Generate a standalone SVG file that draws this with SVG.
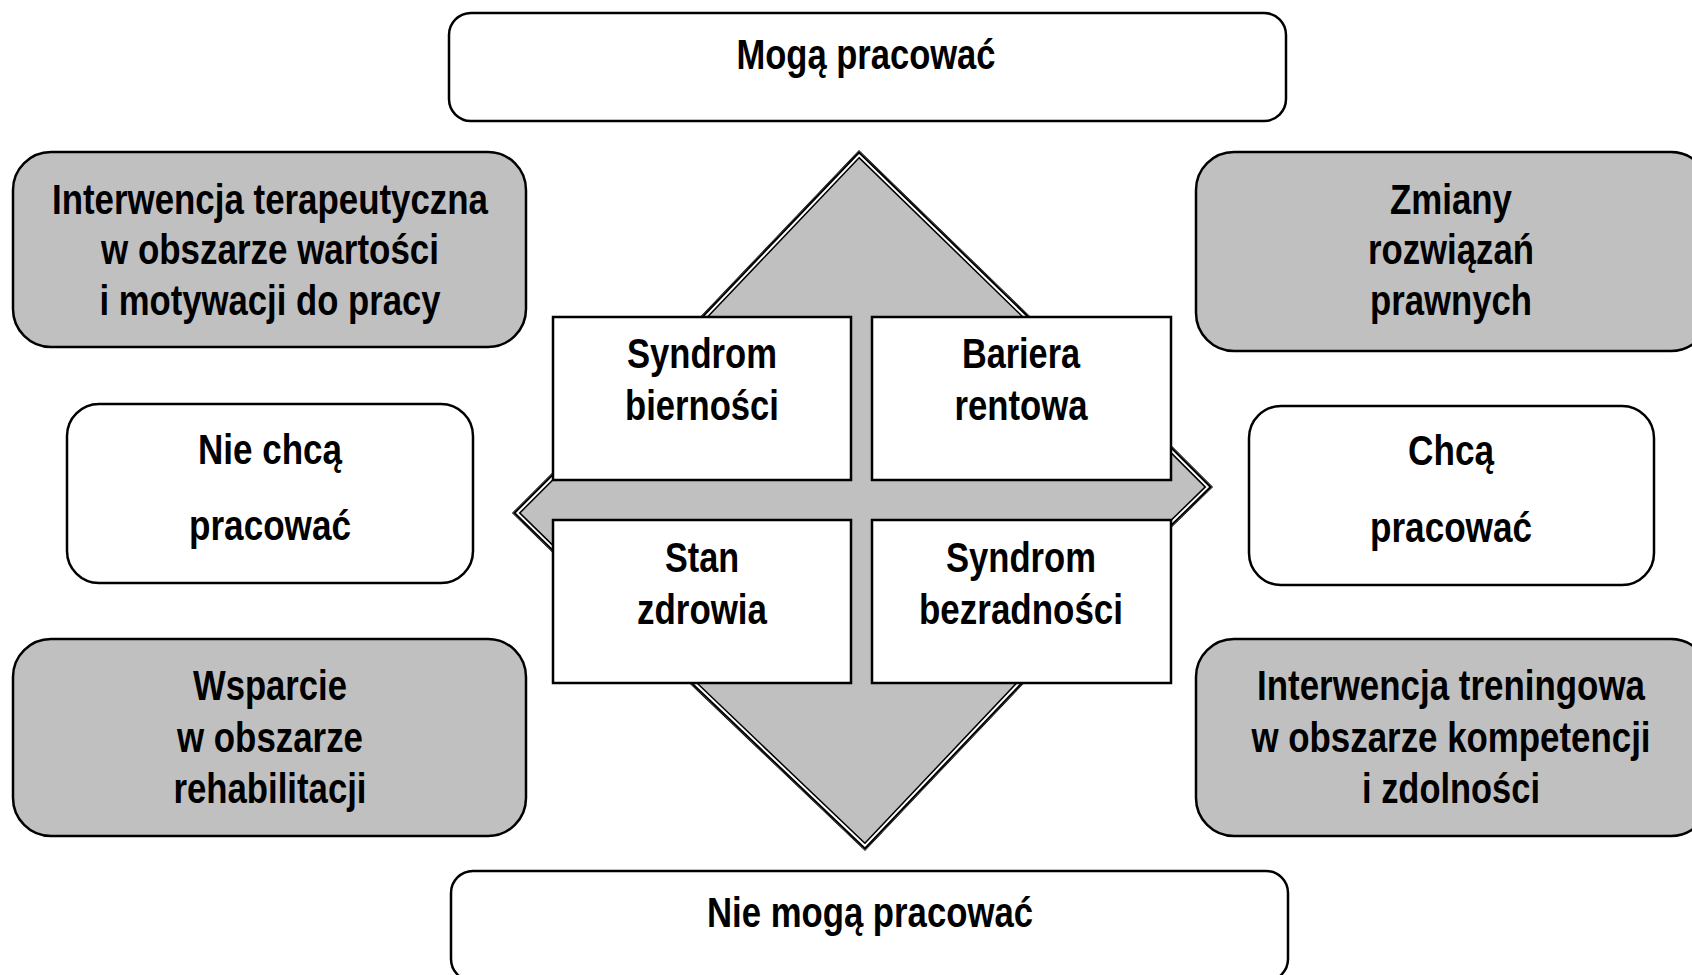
<svg xmlns="http://www.w3.org/2000/svg" width="1692" height="975" viewBox="0 0 1692 975">
<style>
text{font-family:"Liberation Sans Narrow","Arial Narrow","Liberation Sans",Arial,sans-serif;font-weight:bold;font-size:42px;fill:#000;text-anchor:middle}
.w{fill:#fff;stroke:#000;stroke-width:2.5}
.g{fill:#c0c0c0;stroke:#000;stroke-width:2.5}
.r{fill:#fff;stroke:#000;stroke-width:2.5}
</style>
<defs>
<polygon id="qa" points="859,151 1074,360 920,360 920,460 1130,460 1130,405 1212,487 1130,567 1130,540 920,540 920,640 1064,640 865,850 645,640 800,640 800,540 600,540 600,598 513,513 600,426 600,460 800,460 800,360 660,360"/>
<clipPath id="qc"><use href="#qa"/></clipPath>
</defs>
<g id="quad-arrow">
<use href="#qa" fill="#c0c0c0" stroke="#000" stroke-width="1.5"/>
<g clip-path="url(#qc)" fill="none">
<use href="#qa" stroke="#000" stroke-width="11"/>
<use href="#qa" stroke="#fff" stroke-width="8"/>
<use href="#qa" stroke="#000" stroke-width="4"/>
</g>
</g>
<g id="connectors"></g>
<g id="n-moga"><rect class="w" x="449" y="13" width="837" height="108" rx="22"/><text x="866" y="69" textLength="259" lengthAdjust="spacingAndGlyphs">Mogą pracować</text></g>
<g id="n-int-ter"><rect class="g" x="13" y="152" width="513" height="195" rx="38"/><text x="270" y="214" textLength="436" lengthAdjust="spacingAndGlyphs">Interwencja terapeutyczna</text><text x="270" y="264" textLength="338" lengthAdjust="spacingAndGlyphs">w obszarze wartości</text><text x="270" y="315" textLength="341" lengthAdjust="spacingAndGlyphs">i motywacji do pracy</text></g>
<g id="n-zmiany"><rect class="g" x="1196" y="152" width="513" height="199" rx="38"/><text x="1451" y="214" textLength="122" lengthAdjust="spacingAndGlyphs">Zmiany</text><text x="1451" y="264" textLength="166" lengthAdjust="spacingAndGlyphs">rozwiązań</text><text x="1451" y="315" textLength="162" lengthAdjust="spacingAndGlyphs">prawnych</text></g>
<g id="n-nie-chca"><rect class="w" x="67" y="404" width="406" height="179" rx="32"/><text x="270" y="464" textLength="144" lengthAdjust="spacingAndGlyphs">Nie chcą</text><text x="270" y="540" textLength="162" lengthAdjust="spacingAndGlyphs">pracować</text></g>
<g id="n-chca"><rect class="w" x="1249" y="406" width="405" height="179" rx="32"/><text x="1451" y="465" textLength="86" lengthAdjust="spacingAndGlyphs">Chcą</text><text x="1451" y="542" textLength="162" lengthAdjust="spacingAndGlyphs">pracować</text></g>
<g id="n-wsparcie"><rect class="g" x="13" y="639" width="513" height="197" rx="38"/><text x="270" y="700" textLength="154" lengthAdjust="spacingAndGlyphs">Wsparcie</text><text x="270" y="752" textLength="186" lengthAdjust="spacingAndGlyphs">w obszarze</text><text x="270" y="803" textLength="193" lengthAdjust="spacingAndGlyphs">rehabilitacji</text></g>
<g id="n-int-tren"><rect class="g" x="1196" y="639" width="513" height="197" rx="38"/><text x="1451" y="700" textLength="388" lengthAdjust="spacingAndGlyphs">Interwencja treningowa</text><text x="1451" y="752" textLength="399" lengthAdjust="spacingAndGlyphs">w obszarze kompetencji</text><text x="1451" y="803" textLength="178" lengthAdjust="spacingAndGlyphs">i zdolności</text></g>
<g id="n-nie-moga"><rect class="w" x="451" y="871" width="837" height="110" rx="22"/><text x="870" y="927" textLength="326" lengthAdjust="spacingAndGlyphs">Nie mogą pracować</text></g>
<g id="n-biernosci"><rect class="r" x="553" y="317" width="298" height="163"/><text x="702" y="368" textLength="150" lengthAdjust="spacingAndGlyphs">Syndrom</text><text x="702" y="420" textLength="154" lengthAdjust="spacingAndGlyphs">bierności</text></g>
<g id="n-bariera"><rect class="r" x="872" y="317" width="299" height="163"/><text x="1021" y="368" textLength="118" lengthAdjust="spacingAndGlyphs">Bariera</text><text x="1021" y="420" textLength="133" lengthAdjust="spacingAndGlyphs">rentowa</text></g>
<g id="n-stan"><rect class="r" x="553" y="520" width="298" height="163"/><text x="702" y="572" textLength="74" lengthAdjust="spacingAndGlyphs">Stan</text><text x="702" y="624" textLength="130" lengthAdjust="spacingAndGlyphs">zdrowia</text></g>
<g id="n-bezradnosci"><rect class="r" x="872" y="520" width="299" height="163"/><text x="1021" y="572" textLength="150" lengthAdjust="spacingAndGlyphs">Syndrom</text><text x="1021" y="624" textLength="204" lengthAdjust="spacingAndGlyphs">bezradności</text></g>
</svg>
